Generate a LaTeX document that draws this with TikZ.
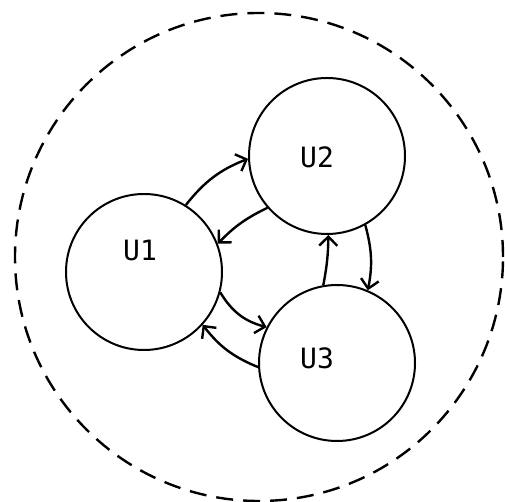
\documentclass[tikz,border=0pt]{standalone}
\usepackage{fontspec}
\setmonofont{DejaVu Sans Mono}
\usetikzlibrary{arrows.meta}
\begin{document}
\begin{tikzpicture}[x=1pt,y=1pt,
    unit/.style={draw,circle,line width=2pt,minimum size=156pt,inner sep=0pt},
    flow/.style={line width=2.4pt,-{Straight Barb[length=9pt,width=18pt]}},
    tag/.style={font=\fontsize{28}{34}\selectfont\ttfamily}]
                \useasboundingbox (0,0) rectangle (505,502);
                \draw[dash pattern=on 17pt off 10pt,line width=2.4pt] (259,245) circle (244pt);
                \node[unit] (U1) at (144,230) {};
                \node[unit] (U2) at (327,346) {};
                \node[unit] (U3) at (337,139) {};
                \node[tag] (t1) at (140,252) {U1};
                \node[tag] (t2) at (317,345) {U2};
                \node[tag] (t3) at (317,144) {U3};
                \draw[flow] (U1.58) to[bend left=15] (U2.182);
                \draw[flow] (U2.221) to[bend right=10] (U1.21);
                \draw[flow] (U2.299) to[bend left=13] (U3.67);
                \draw[flow] (U3.100) to[bend right=5] (U2.271);
                \draw[flow] (U1.-15) to[bend right=22] (U3.153);
                \draw[flow] (U3.183) to[bend left=15] (U1.-42);
            \end{tikzpicture}
\end{document}
